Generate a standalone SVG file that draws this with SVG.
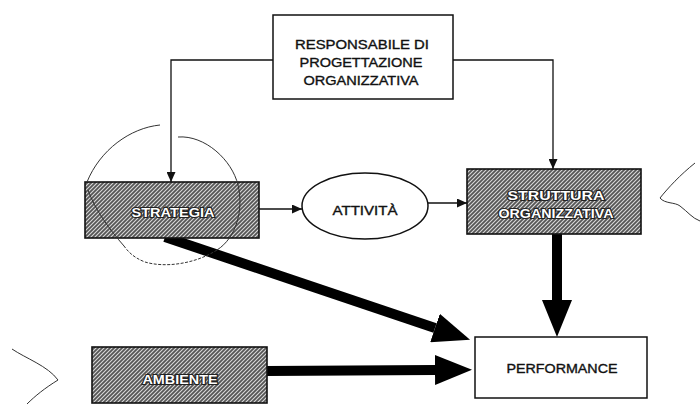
<svg xmlns="http://www.w3.org/2000/svg" width="700" height="405" viewBox="0 0 700 405">
<style>
.box{fill:#fff;stroke:#111;stroke-width:1.5}
.hbox{fill:url(#hatch);stroke:#111;stroke-width:1.6}
.t{font-family:"Liberation Sans",Arial,sans-serif;font-size:12.5px;fill:#111;stroke:#111;stroke-width:0.35;text-anchor:middle}
.ht{font-family:"Liberation Sans",Arial,sans-serif;font-size:12.5px;font-weight:bold;fill:#fff;stroke:#222;stroke-width:2.2;paint-order:stroke fill;text-anchor:middle}
.thin{fill:none;stroke:#111;stroke-width:1.3}
.thick{fill:none;stroke:#000;stroke-width:10}
.scrib{fill:none;stroke:#333;stroke-width:1}
</style>
<defs>
<pattern id="hatch" patternUnits="userSpaceOnUse" width="4" height="4">
<rect width="4" height="4" fill="#555"/>
<path d="M-1,1 L1,-1 M0,4 L4,0 M3,5 L5,3" stroke="#d8d8d8" stroke-width="1.1"/>
</pattern>
<marker id="ah" markerUnits="userSpaceOnUse" markerWidth="10" markerHeight="9" refX="10" refY="4.5" orient="auto">
<path d="M0,0 L10,4.5 L0,9 z" fill="#111"/>
</marker>
<marker id="big" markerUnits="userSpaceOnUse" markerWidth="37" markerHeight="30" refX="0" refY="15" orient="auto">
<path d="M0,0 L37,15 L0,30 z" fill="#000"/>
</marker>
</defs>
<g id="connectors">
<polyline class="thin" points="273,60 171,60 171,182" marker-end="url(#ah)"/>
<polyline class="thin" points="453,60 553,60 553,169" marker-end="url(#ah)"/>
<line class="thin" x1="259" y1="209" x2="302" y2="209" marker-end="url(#ah)"/>
<line class="thin" x1="428" y1="203" x2="467" y2="203" marker-end="url(#ah)"/>
<line class="thick" x1="165" y1="237" x2="435" y2="328" marker-end="url(#big)"/>
<line class="thick" x1="557" y1="234" x2="557" y2="300" marker-end="url(#big)"/>
<line class="thick" x1="267" y1="371" x2="435" y2="370" marker-end="url(#big)"/>
</g>
<g id="responsabile">
<rect class="box" x="273" y="15" width="180" height="84"/>
<text class="t" x="362" y="49" textLength="134" lengthAdjust="spacingAndGlyphs">RESPONSABILE DI</text>
<text class="t" x="361" y="67" textLength="123" lengthAdjust="spacingAndGlyphs">PROGETTAZIONE</text>
<text class="t" x="361" y="85" textLength="115" lengthAdjust="spacingAndGlyphs">ORGANIZZATIVA</text>
</g>
<g id="strategia">
<rect class="hbox" x="85" y="182" width="174" height="56"/>
<text class="ht" x="173" y="217" textLength="83" lengthAdjust="spacingAndGlyphs">STRATEGIA</text>
</g>
<g id="attivita">
<ellipse class="box" cx="365" cy="206" rx="63" ry="33"/>
<text class="t" x="365" y="215" textLength="65" lengthAdjust="spacingAndGlyphs">ATTIVITÀ</text>
</g>
<g id="struttura">
<rect class="hbox" x="467" y="169" width="174" height="65"/>
<text class="ht" x="556" y="200" textLength="97" lengthAdjust="spacingAndGlyphs">STRUTTURA</text>
<text class="ht" x="556" y="218" textLength="115" lengthAdjust="spacingAndGlyphs">ORGANIZZATIVA</text>
</g>
<g id="ambiente">
<rect class="hbox" x="92" y="347" width="175" height="56"/>
<text class="ht" x="180" y="384" textLength="75" lengthAdjust="spacingAndGlyphs">AMBIENTE</text>
</g>
<g id="performance">
<rect class="box" x="475" y="337" width="172" height="61"/>
<text class="t" x="562" y="373" textLength="111" lengthAdjust="spacingAndGlyphs">PERFORMANCE</text>
</g>
<g id="scribbles">
<path class="scrib" d="M87,182 C100,150 130,128 160,125"/>
<path class="scrib" d="M178,137 C205,135 232,160 238,185 C244,210 236,238 217,250"/>
<path class="scrib" stroke-dasharray="3,1.5" d="M217,250 C195,264 165,268 145,262 C132,257 127,250 124,246"/>
<path class="scrib" d="M124,246 C110,230 95,210 88,190"/>
<path class="scrib" d="M695,163 C680,175 668,188 660,198 C665,204 675,202 680,206 C688,212 692,218 700,221"/>
<path class="scrib" d="M12,349 C25,358 48,366 58,380 C45,388 35,396 27,404"/>
</g>
</svg>
